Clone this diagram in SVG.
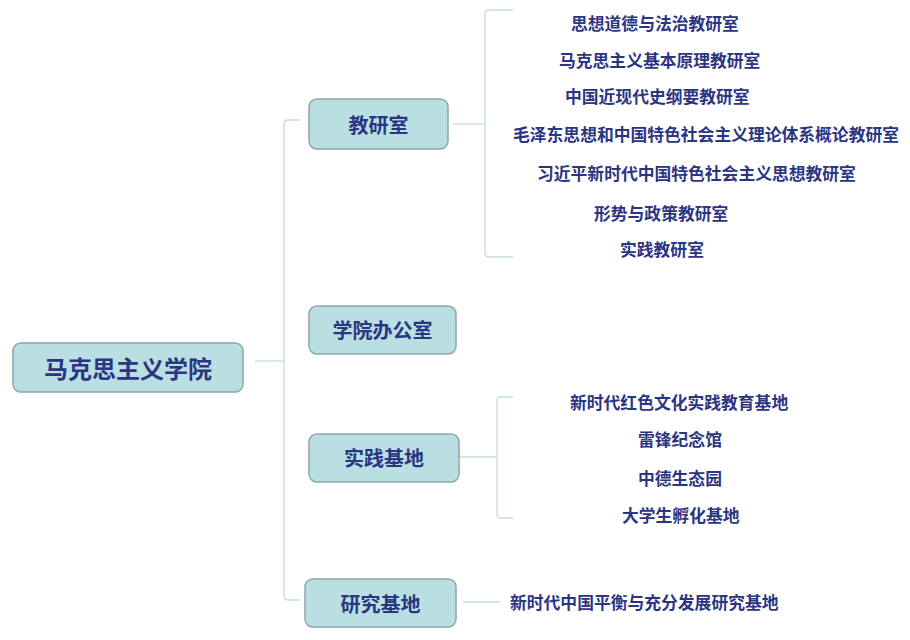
<svg xmlns="http://www.w3.org/2000/svg" width="910" height="640" viewBox="0 0 910 640">
<style>
.box{fill:#B9DFE2;stroke:#8EA5A8;stroke-width:1.5}
.lbl{font-family:"Noto Sans CJK SC","Noto Sans",sans-serif;font-weight:700;fill:#2B3582;dominant-baseline:central}
.t1{font-size:24px;text-anchor:middle}
.t2{font-size:20px;text-anchor:middle}
.leaf{font-size:16.8px;text-anchor:start}
.conn{fill:none;stroke:#C5DDDB;stroke-width:1.3}
</style>
<rect width="910" height="640" fill="#FFFFFF"/>
<g id="connectors">
<path class="conn" d="M255 361 H284"/>
<path class="conn" d="M300 120 H288 Q284 120 284 124 V596 Q284 600 288 600 H300"/>
<path class="conn" d="M453 124 H485"/>
<path class="conn" d="M513 10 H489 Q485 10 485 14 V253 Q485 257 489 257 H513"/>
<path class="conn" d="M460 457 H497"/>
<path class="conn" d="M513 397 H501 Q497 397 497 401 V514 Q497 518 501 518 H513"/>
<path class="conn" d="M463 602 H500"/>
</g>
<g id="root">
<rect class="box" x="13" y="343" width="230" height="49" rx="8"/>
<text class="lbl t1" x="128" y="367">马克思主义学院</text>
</g>
<g id="jiaoyanshi">
<rect class="box" x="309" y="99" width="139" height="50" rx="8"/>
<text class="lbl t2" x="378.5" y="124">教研室</text>
</g>
<g id="bangongshi">
<rect class="box" x="309" y="306" width="147" height="48" rx="8"/>
<text class="lbl t2" x="382.5" y="329">学院办公室</text>
</g>
<g id="shijianjidi">
<rect class="box" x="309" y="434" width="150" height="48" rx="8"/>
<text class="lbl t2" x="384" y="457">实践基地</text>
</g>
<g id="yanjiujidi">
<rect class="box" x="305" y="579" width="151" height="48" rx="8"/>
<text class="lbl t2" x="380.5" y="603">研究基地</text>
</g>
<g id="leaf1"><text class="lbl leaf" x="571" y="23">思想道德与法治教研室</text></g>
<g id="leaf2"><text class="lbl leaf" x="559" y="60">马克思主义基本原理教研室</text></g>
<g id="leaf3"><text class="lbl leaf" x="565" y="96">中国近现代史纲要教研室</text></g>
<g id="leaf4"><text class="lbl leaf" x="513" y="134">毛泽东思想和中国特色社会主义理论体系概论教研室</text></g>
<g id="leaf5"><text class="lbl leaf" x="537" y="173">习近平新时代中国特色社会主义思想教研室</text></g>
<g id="leaf6"><text class="lbl leaf" x="594" y="213">形势与政策教研室</text></g>
<g id="leaf7"><text class="lbl leaf" x="620" y="249">实践教研室</text></g>
<g id="leaf8"><text class="lbl leaf" x="570" y="402">新时代红色文化实践教育基地</text></g>
<g id="leaf9"><text class="lbl leaf" x="638" y="439">雷锋纪念馆</text></g>
<g id="leaf10"><text class="lbl leaf" x="638" y="478">中德生态园</text></g>
<g id="leaf11"><text class="lbl leaf" x="622" y="515">大学生孵化基地</text></g>
<g id="leaf12"><text class="lbl leaf" x="510" y="602">新时代中国平衡与充分发展研究基地</text></g>
</svg>
